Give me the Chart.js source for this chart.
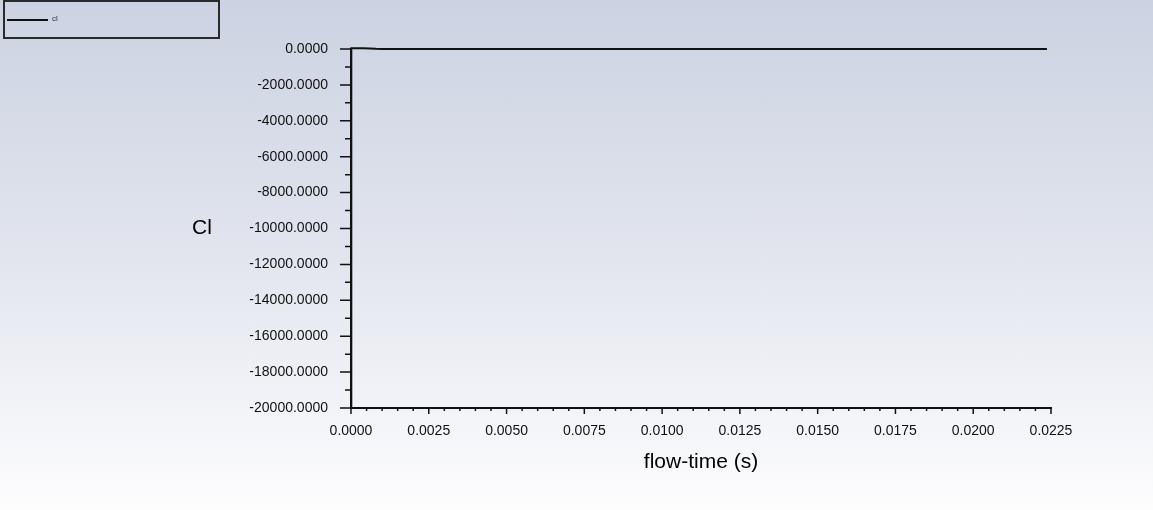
<!DOCTYPE html>
<html>
<head>
<meta charset="utf-8">
<script src="https://cdn.jsdelivr.net/npm/chart.js@4.4.1/dist/chart.umd.min.js"></script>
<style>
  html, body { margin: 0; padding: 0; }
  body {
    width: 1153px; height: 510px; overflow: hidden;
    background: linear-gradient(to bottom, #ccd2e2 0%, #e2e5ee 50%, #fdfdfe 100%);
    font-family: Arial, "Liberation Sans", sans-serif;
  }
  #wrap { position: relative; width: 1153px; height: 510px; }
  #legend {
    position: absolute; left: 3px; top: 0; width: 213px; height: 35px;
    border: 2px solid #2a2a2a; box-sizing: content-box;
  }
  #legend .swatch { position: absolute; left: 2px; top: 17px; width: 41px; height: 2px; background: #111; }
  #legend .label { position: absolute; left: 47px; top: 12px; font-size: 8px; color: #333; }
</style>
</head>
<body>
<div id="wrap">
  <canvas id="chart"></canvas>
  <div id="legend"><span class="swatch"></span><span class="label">cl</span></div>
</div>
<script>
const flowTime = [0, 0.00001, 0.0002, 0.0004, 0.0006, 0.0008, 0.001, 0.0015, 0.002, 0.003, 0.004, 0.005,
  0.006, 0.007, 0.008, 0.009, 0.010, 0.011, 0.012, 0.013, 0.014, 0.015, 0.016, 0.017, 0.018,
  0.019, 0.020, 0.021, 0.022, 0.02237];
const cl = [-20000, 45, 42, 38, 30, 12, 4, 2, 2, 1, 1, 1, 1, 1, 1, 1, 1, 1, 1, 1, 1, 1, 1, 1, 1,
  1, 1, 1, 1, 1];
const xTicks = [0, 0.0025, 0.005, 0.0075, 0.01, 0.0125, 0.015, 0.0175, 0.02, 0.0225];
const yTicks = [0, -2000, -4000, -6000, -8000, -10000, -12000, -14000, -16000, -18000, -20000];
const yTitle = 'Cl';

const fontFamily = 'Arial, "Liberation Sans", sans-serif';

// major and minor tick marks on both axes, plus the upright y title
const tickMarks = {
  id: 'tickMarks',
  afterDraw(chart) {
    const ctx = chart.ctx;
    const xs = chart.scales.x, ys = chart.scales.y;
    const area = chart.chartArea;
    ctx.save();
    ctx.strokeStyle = '#111';
    ctx.lineWidth = 1.5;
    ctx.beginPath();
    for (let i = 0; i < xTicks.length; i++) {
      const px = xs.getPixelForValue(xTicks[i]);
      ctx.moveTo(px, area.bottom); ctx.lineTo(px, area.bottom + 6);
      if (i < xTicks.length - 1) {
        const step = (xTicks[i + 1] - xTicks[i]) / 5;
        for (let k = 1; k < 5; k++) {
          const mx = xs.getPixelForValue(xTicks[i] + step * k);
          ctx.moveTo(mx, area.bottom); ctx.lineTo(mx, area.bottom + 3);
        }
      }
    }
    for (let i = 0; i < yTicks.length; i++) {
      const py = ys.getPixelForValue(yTicks[i]);
      ctx.moveTo(area.left, py); ctx.lineTo(area.left - 11, py);
      if (i < yTicks.length - 1) {
        const my = ys.getPixelForValue((yTicks[i] + yTicks[i + 1]) / 2);
        ctx.moveTo(area.left, my); ctx.lineTo(area.left - 6, my);
      }
    }
    ctx.stroke();

    ctx.fillStyle = '#000';
    ctx.font = '21px ' + fontFamily;
    ctx.textAlign = 'center';
    ctx.textBaseline = 'middle';
    ctx.fillText(yTitle, ys.left + 22, (area.top + area.bottom) / 2);
    ctx.restore();
  }
};

new Chart(document.getElementById('chart'), {
  type: 'line',
  data: {
    datasets: [{
      label: 'cl',
      data: flowTime.map((t, i) => ({ x: t, y: cl[i] })),
      borderColor: '#111',
      borderWidth: 2,
      pointRadius: 0,
      tension: 0,
      clip: 4
    }]
  },
  options: {
    responsive: true,
    maintainAspectRatio: false,
    animation: false,
    layout: { padding: { left: 180, top: 49, right: 102, bottom: 20 } },
    plugins: { legend: { display: false }, tooltip: { enabled: false } },
    scales: {
      x: {
        type: 'linear',
        min: 0,
        max: 0.0225,
        afterBuildTicks: s => { s.ticks = xTicks.map(v => ({ value: v })); },
        afterFit: s => { s.height = 82; },
        grid: { display: true, drawOnChartArea: false, drawTicks: false },
        border: { display: true, color: '#111', width: 2 },
        ticks: {
          padding: 15,
          maxRotation: 0,
          color: '#111',
          font: { family: fontFamily, size: 14 },
          callback: v => Number(v).toFixed(4)
        },
        title: {
          display: true,
          text: 'flow-time (s)',
          color: '#000',
          font: { family: fontFamily, size: 21 },
          padding: { top: 0, bottom: 15 }
        }
      },
      y: {
        type: 'linear',
        min: -20000,
        max: 0,
        afterBuildTicks: s => { s.ticks = yTicks.map(v => ({ value: v })); },
        afterFit: s => { s.width = 171; },
        grid: { display: true, drawOnChartArea: false, drawTicks: false },
        border: { display: true, color: '#111', width: 2 },
        ticks: {
          padding: 23,
          color: '#111',
          font: { family: fontFamily, size: 14 },
          callback: v => Number(v).toFixed(4)
        },
        title: { display: false }
      }
    }
  },
  plugins: [tickMarks]
});
</script>
</body>
</html>
